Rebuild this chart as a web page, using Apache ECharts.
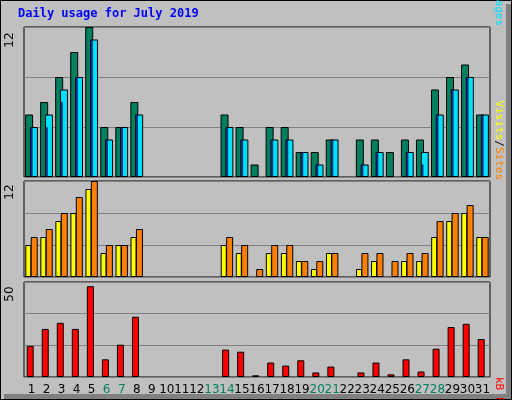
<!DOCTYPE html>
<html><head><meta charset="utf-8">
<script src="https://cdn.jsdelivr.net/npm/echarts@6/dist/echarts.min.js"></script>
<style>
html,body{margin:0;padding:0;background:#fff;}
#frame{position:absolute;left:0;top:0;width:510px;height:398px;background:#c0c0c0;border:1px solid #000;}
#shade{position:absolute;left:4px;top:394px;width:507px;height:5px;background:#808080;}
#shade2{position:absolute;left:506px;top:4px;width:5px;height:395px;background:#808080;}
#c{position:absolute;left:0;top:0;width:512px;height:400px;}
</style></head><body>
<div id="frame"></div><div id="shade"></div><div id="shade2"></div>
<div id="c"></div>
<script>
const days = ['1','2','3','4','5','6','7','8','9','10','11','12','13','14','15','16','17','18','19','20','21','22','23','24','25','26','27','28','29','30','31'];
const weekend = ['6','7','13','14','20','21','27','28'];
const hits  = [5,6,8,10,12,4,4,6,0,0,0,0,0,5,4,1,4,4,2,2,3,0,3,3,2,3,3,7,8,9,5];
const files = [4,5,7,8,11,3,4,5,0,0,0,0,0,4,3,0,3,3,2,1,3,0,1,2,0,2,2,5,7,8,5];
const pages = [4,4,6,8,11,3,4,5,0,0,0,0,0,4,3,0,3,3,2,1,3,0,1,2,0,2,1,5,7,8,5];
const visits= [4,5,7,8,11,3,4,5,0,0,0,0,0,4,3,0,3,3,2,1,3,0,1,2,0,2,2,5,7,8,5];
const sites = [5,6,8,10,12,4,4,6,0,0,0,0,0,5,4,1,4,4,2,2,3,0,3,3,2,3,3,7,8,9,5];
const kbF   = [16.4,25.3,28.5,25.3,47.8,9.3,17,31.7,0,0,0,0,0,14.4,13.3,0.9,7.6,6,8.8,2.4,5.5,0,2.4,7.6,1.4,9.3,2.9,14.9,26.3,28,20];
const maxTop = 12, maxMid = 12, maxBot = 50;

const nz = a => a.map(v => v === 0 ? null : v);
const chart = echarts.init(document.getElementById('c'));
const grids = [
  {left:24, right:22, top:27, height:150},
  {left:24, right:22, top:181, height:96},
  {left:24, right:22, top:282, height:95}
];
const bdr = {borderColor:'#000', borderWidth:1};
function xa(gi, show){
  return {type:'category', gridIndex:gi, data:days, show: true,
    axisLine:{show:false}, axisTick:{show:false},
    axisLabel:{show:show, interval:0, margin:7, fontSize:12, fontFamily:'DejaVu Sans',
      color:(v)=> weekend.includes(v) ? '#00805f' : '#000'}};
}
function ya(gi, max, interval){
  return {type:'value', gridIndex:gi, min:0, max:max, interval:interval,
    axisLabel:{show:false}, axisLine:{show:false}, axisTick:{show:false},
    splitLine:{lineStyle:{color:'#808080', width:1}}};
}
chart.setOption({
  animation:false,
  grid: grids.map(g => Object.assign({show:true, borderColor:'#000', borderWidth:1, backgroundColor:'transparent'}, g)),
  xAxis:[xa(0,false), xa(0,false), xa(1,false), xa(2,true)],
  yAxis:[ya(0,maxTop,4), ya(0,maxTop,4), ya(1,maxMid,4), ya(2,maxBot,50/3)],
  series:[
    {type:'bar', name:'Hits', xAxisIndex:0, yAxisIndex:0, data:nz(hits), barWidth:8, barGap:'-40%', itemStyle:Object.assign({color:'#00805f'},bdr)},
    {type:'bar', name:'Files', xAxisIndex:0, yAxisIndex:0, data:nz(files), barWidth:8, barGap:'-40%', itemStyle:Object.assign({color:'#00e0ff'},bdr)},
    {type:'bar', name:'Pages', xAxisIndex:1, yAxisIndex:1, data:nz(pages), barWidth:2, z:3, itemStyle:Object.assign({color:'#0040ff'},{borderColor:'#000',borderWidth:0.6})},
    {type:'bar', name:'Visits', xAxisIndex:2, yAxisIndex:2, data:nz(visits), barWidth:6, barGap:'-10%', itemStyle:Object.assign({color:'#ffff00'},bdr)},
    {type:'bar', name:'Sites', xAxisIndex:2, yAxisIndex:2, data:nz(sites), barWidth:7, barGap:'-10%', itemStyle:Object.assign({color:'#ff8000'},bdr)},
    {type:'bar', name:'kB F', xAxisIndex:3, yAxisIndex:3, data:nz(kbF), barWidth:7, barGap:'-20%', itemStyle:Object.assign({color:'#ff0000'},bdr)},
    {type:'bar', name:'kB In', xAxisIndex:3, yAxisIndex:3, data:days.map(()=>null), barWidth:4, barGap:'-20%'}
  ],
  graphic:[
    {type:'text', left:18, top:8, style:{text:'Daily usage for July 2019', fill:'#0000ff', font:'bold 12px "DejaVu Sans Mono"'}},
    {type:'text', x:10, y:40, rotation:Math.PI/2, style:{text:String(maxTop), fill:'#000', font:'12px "DejaVu Sans"', align:'center', verticalAlign:'middle'}},
    {type:'text', x:10, y:192, rotation:Math.PI/2, style:{text:String(maxMid), fill:'#000', font:'12px "DejaVu Sans"', align:'center', verticalAlign:'middle'}},
    {type:'text', x:10, y:294, rotation:Math.PI/2, style:{text:String(maxBot), fill:'#000', font:'12px "DejaVu Sans"', align:'center', verticalAlign:'middle'}},
    {type:'text', x:499, y:26, rotation:-Math.PI/2, style:{text:'{h|Hits}{s|/}{f|Files}{s|/}{p|Pages}', align:'right', verticalAlign:'middle',
      rich:{h:{fill:'#00805f',font:'11px "DejaVu Sans Mono"'},f:{fill:'#0040ff',font:'11px "DejaVu Sans Mono"'},p:{fill:'#00e0ff',font:'11px "DejaVu Sans Mono"'},s:{fill:'#000',font:'11px "DejaVu Sans Mono"'}}}},
    {type:'text', x:499, y:180, rotation:-Math.PI/2, style:{text:'{v|Visits}{s|/}{t|Sites}', align:'right', verticalAlign:'middle',
      rich:{v:{fill:'#ffff00',font:'11px "DejaVu Sans Mono"'},t:{fill:'#ff8000',font:'11px "DejaVu Sans Mono"'},s:{fill:'#000',font:'11px "DejaVu Sans Mono"'}}}},
    {type:'text', x:499, y:377, rotation:-Math.PI/2, style:{text:'{r|kB F}{s|/}{b|kB In}{s|/}{g|kB Out}', align:'left', verticalAlign:'middle',
      rich:{r:{fill:'#ff0000',font:'11px "DejaVu Sans Mono"'},b:{fill:'#0080ff',font:'11px "DejaVu Sans Mono"'},g:{fill:'#00c000',font:'11px "DejaVu Sans Mono"'},s:{fill:'#000',font:'11px "DejaVu Sans Mono"'}}}}
  ]
});
</script></body></html>
